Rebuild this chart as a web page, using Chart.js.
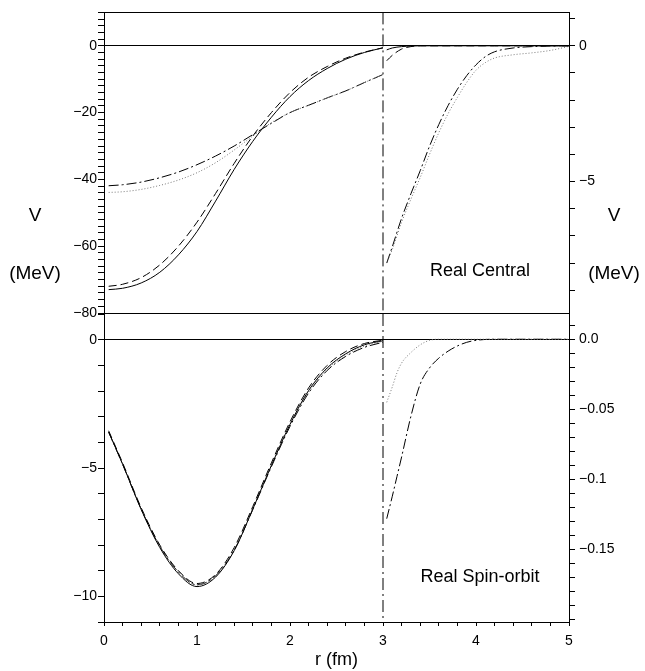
<!DOCTYPE html>
<html>
<head>
<meta charset="utf-8">
<script src="https://cdn.jsdelivr.net/npm/chart.js@4"></script>
<style>
  html, body { margin: 0; padding: 0; background: #fff; }
  #wrap { position: relative; width: 645px; height: 671px; overflow: hidden; background: #fff; }
  canvas { position: absolute; left: 0; top: 0; }
  .lbl { position: absolute; font-family: "Liberation Sans", Arial, sans-serif; color: #000; white-space: nowrap; transform: translate(-50%, -50%); }
</style>
</head>
<body>
<div id="wrap">
  <canvas id="top" width="645" height="671"></canvas>
  <canvas id="bot" width="645" height="671"></canvas>
  <div class="lbl" style="left:35px;top:215px;font-size:19px;">V</div>
  <div class="lbl" style="left:35px;top:273px;font-size:19px;">(MeV)</div>
  <div class="lbl" style="left:614px;top:215px;font-size:19px;">V</div>
  <div class="lbl" style="left:614px;top:273px;font-size:19px;">(MeV)</div>
  <div class="lbl" style="left:480px;top:270px;font-size:18px;">Real Central</div>
  <div class="lbl" style="left:480px;top:576px;font-size:18px;">Real Spin-orbit</div>
</div>
<script>
// ---------------- DATA ----------------
// radius grid inside the matching radius (left-hand axes)
const rInner = [0.05, 0.2, 0.4, 0.6, 0.8, 1.0, 1.2, 1.4, 1.6, 1.8, 2.0, 2.2, 2.4, 2.6, 2.8, 3.0];
// radius grid outside the matching radius (right-hand axes, magnified)
const rOuterTop = [3.04, 3.1, 3.2, 3.3, 3.4, 3.5, 3.6, 3.7, 3.8, 3.9, 4.0, 4.1, 4.2, 4.4, 4.6, 4.8, 5.0];
const rOuterBot = [3.04, 3.1, 3.15, 3.2, 3.3, 3.4, 3.5, 3.6, 3.7, 3.8, 3.9, 4.0, 4.2, 4.5, 5.0];
const matchRadius = 3.0;

// Real central (MeV), left axis
const centralSolid   = [-73.0, -72.6, -71.0, -67.8, -62.6, -55.6, -46.5, -37.0, -28.6, -21.4, -15.2, -10.4, -6.8, -4.0, -2.0, -0.6];
const centralDashed  = [-72.0, -71.4, -69.4, -65.6, -60.0, -52.8, -44.2, -35.2, -27.0, -20.0, -14.0, -9.4, -6.2, -3.7, -1.9, -0.6];
const centralDashDot = [-41.9, -41.6, -40.8, -39.5, -37.8, -35.6, -33.0, -30.0, -26.6, -23.2, -20.0, -17.8, -15.6, -13.5, -11.0, -8.6];
const centralDotted  = [-43.9, -43.7, -43.0, -41.8, -40.2, -38.0, -35.0, -31.2, -27.0, -23.0, -20.0, -17.8, -15.6, -13.5, -11.0, -8.6];
// Real central tails (MeV), right axis
const centralSolidTail   = [-0.15, -0.08, -0.03, -0.01, 0, 0, 0, 0, 0, 0, 0, 0, 0, 0, 0, 0, 0];
const centralDashedTail  = [-0.55, -0.35, -0.12, -0.03, 0, 0, 0, 0, 0, 0, 0, 0, 0, 0, 0, 0, 0];
const centralDashDotTail = [-8.0, -7.4, -6.35, -5.45, -4.6, -3.7, -2.9, -2.2, -1.6, -1.1, -0.7, -0.4, -0.22, -0.08, -0.03, -0.01, 0];
const centralDottedTail  = [-8.0, -7.5, -6.5, -5.65, -4.85, -4.0, -3.2, -2.5, -1.9, -1.35, -0.9, -0.62, -0.45, -0.33, -0.26, -0.17, -0.02];

// Real spin-orbit (MeV), left axis
const soSolid   = [-3.6, -4.85, -6.62, -8.1, -9.12, -9.62, -9.25, -8.22, -6.6, -4.9, -3.3, -1.98, -1.1, -0.55, -0.2, -0.04];
const soDashed  = [-3.55, -4.8, -6.55, -8.0, -9.0, -9.5, -9.15, -8.1, -6.5, -4.8, -3.2, -1.88, -1.0, -0.46, -0.15, -0.02];
const soDashDot = [-3.6, -4.85, -6.6, -8.05, -9.05, -9.55, -9.2, -8.2, -6.62, -4.95, -3.38, -2.08, -1.2, -0.65, -0.3, -0.1];
const soDotted  = [-3.6, -4.85, -6.6, -8.05, -9.05, -9.55, -9.2, -8.2, -6.6, -4.92, -3.33, -2.03, -1.15, -0.6, -0.25, -0.06];
// Real spin-orbit tails (MeV), right axis
const soDottedTail  = [-0.045, -0.034, -0.024, -0.017, -0.0095, -0.004, -0.0008, 0, 0, 0, 0, 0, 0, 0, 0];
const soDashDotTail = [-0.128, -0.112, -0.098, -0.084, -0.055, -0.032, -0.0205, -0.0135, -0.0085, -0.0048, -0.0022, -0.0008, 0, 0, 0];

// axis ranges / tick labels
const xTickLabels = [0, 1, 2, 3, 4, 5];
const topLeftLabels = [0, -20, -40, -60, -80];
const topRightLabels = [0, -5];
const botLeftLabels = [0, -5, -10];
const botRightLabels = [0, -0.05, -0.1, -0.15];

// ---------------- STYLE ----------------
const FONT = '"Liberation Sans", Arial, sans-serif';
Chart.defaults.font.family = FONT;
Chart.defaults.font.size = 14;
Chart.defaults.color = '#000';

const STY = {
  solid:   { borderColor: '#000', borderWidth: 1, borderDash: [] },
  dashed:  { borderColor: '#000', borderWidth: 1, borderDash: [8, 4] },
  dashDot: { borderColor: '#000', borderWidth: 1, borderDash: [10, 3, 2, 3] },
  dotted:  { borderColor: '#777', borderWidth: 1, borderDash: [1, 2] }
};

const pts = (xs, ys) => xs.map((x, i) => ({ x: x, y: ys[i] }));
const ds = (xs, ys, sty, axis) => Object.assign({
  data: pts(xs, ys), yAxisID: axis, pointRadius: 0, fill: false,
  cubicInterpolationMode: 'monotone'
}, sty);

const minus = v => (v < 0 ? '\u2212' : '') + Math.abs(v);
const near = (v, list) => list.find(l => Math.abs(v - l) < 1e-6);
const fmt = (list, f) => (v) => { const m = near(v, list); return m === undefined ? '' : f(m); };

const frame = {
  id: 'frame',
  afterDatasetsDraw(chart, args, opts) {
    const a = chart.chartArea, c = chart.ctx;
    const l = Math.round(a.left) + 0.5, r = Math.round(a.right) + 0.5;
    const t = Math.round(a.top) + 0.5, b = Math.round(a.bottom) + 0.5;
    c.save(); c.strokeStyle = '#000'; c.lineWidth = 1;
    c.beginPath();
    if (!opts.skipTop) { c.moveTo(l, t); c.lineTo(r, t); }
    c.moveTo(r, t); c.lineTo(r, b);
    c.moveTo(l, b); c.lineTo(r, b);
    c.moveTo(l, t); c.lineTo(l, b);
    c.stroke();
    c.restore();
  }
};

function yAxis(pos, min, max, step, labels, labelFmt, zeroLine) {
  return {
    type: 'linear', position: pos, min: min, max: max,
    afterFit: s => { s.width = pos === 'left' ? 104 : 76; },
    border: { display: true, color: '#000', width: 1 },
    grid: {
      drawOnChartArea: !!zeroLine,
      color: ctx => (zeroLine && ctx.tick && Math.abs(ctx.tick.value) < 1e-9) ? '#000' : 'rgba(0,0,0,0)',
      tickColor: '#000', tickLength: 6, lineWidth: 1
    },
    ticks: {
      stepSize: step, includeBounds: false, autoSkip: false,
      padding: pos === 'left' ? 1 : 4,
      font: { size: 14 },
      callback: fmt(labels, labelFmt)
    }
  };
}

const xBase = {
  type: 'linear', min: 0, max: 5,
  ticks: { stepSize: 0.2, autoSkip: false, maxRotation: 0, padding: 7, font: { size: 14 },
           callback: fmt(xTickLabels, v => String(v)) },
  grid: { drawOnChartArea: false, tickColor: '#000', tickLength: 4 },
  border: { display: true, color: '#000' }
};

// ---------------- TOP PANEL ----------------
new Chart(document.getElementById('top'), {
  type: 'line',
  data: {
    datasets: [
      ds(rInner, centralSolid, STY.solid, 'yL'),
      ds(rInner, centralDashed, STY.dashed, 'yL'),
      ds(rInner, centralDotted, STY.dotted, 'yL'),
      ds(rInner, centralDashDot, STY.dashDot, 'yL'),
      ds(rOuterTop, centralSolidTail, STY.solid, 'yR'),
      ds(rOuterTop, centralDashedTail, STY.dashed, 'yR'),
      ds(rOuterTop, centralDottedTail, STY.dotted, 'yR'),
      ds(rOuterTop, centralDashDotTail, STY.dashDot, 'yR'),
      Object.assign({ data: [{ x: matchRadius, y: 10 }, { x: matchRadius, y: -80 }], yAxisID: 'yL',
        pointRadius: 0, fill: false }, STY.dashDot, { borderDash: [12, 4, 2, 4] })
    ]
  },
  options: {
    responsive: false, animation: false, devicePixelRatio: 1,
    layout: { padding: { top: 9, bottom: 358, left: 0, right: 0 } },
    plugins: { legend: { display: false }, tooltip: { enabled: false }, frame: { skipTop: false } },
    scales: {
      x: Object.assign({}, xBase, { display: false }),
      yL: yAxis('left', -80, 10, 2, topLeftLabels, minus, true),
      yR: yAxis('right', -9.84, 1.23, 1, topRightLabels, minus, false)
    }
  },
  plugins: [frame]
});

// ---------------- BOTTOM PANEL ----------------
new Chart(document.getElementById('bot'), {
  type: 'line',
  data: {
    datasets: [
      ds(rInner, soSolid, STY.solid, 'yL'),
      ds(rInner, soDashed, STY.dashed, 'yL'),
      ds(rInner, soDotted, STY.dotted, 'yL'),
      ds(rInner, soDashDot, STY.dashDot, 'yL'),
      ds(rOuterBot, soDottedTail, STY.dotted, 'yR'),
      ds(rOuterBot, soDashDotTail, STY.dashDot, 'yR'),
      Object.assign({ data: [{ x: matchRadius, y: 1 }, { x: matchRadius, y: -11 }], yAxisID: 'yL',
        pointRadius: 0, fill: false }, STY.dashDot, { borderDash: [12, 4, 2, 4] })
    ]
  },
  options: {
    responsive: false, animation: false, devicePixelRatio: 1,
    layout: { padding: { top: 314, bottom: 0, left: 0, right: 0 } },
    plugins: { legend: { display: false }, tooltip: { enabled: false }, frame: { skipTop: true } },
    scales: {
      x: Object.assign({}, xBase, {
        afterFit: s => { s.height = 49; },
        title: { display: true, text: 'r (fm)', font: { size: 18 }, padding: { top: 0, bottom: 0 } }
      }),
      yL: yAxis('left', -11, 1, 1, botLeftLabels, minus, true),
      yR: yAxis('right', -0.2017, 0.018, 0.01, botRightLabels,
        v => v === 0 ? '0.0' : minus(v), false)
    }
  },
  plugins: [frame]
});
</script>
</body>
</html>
